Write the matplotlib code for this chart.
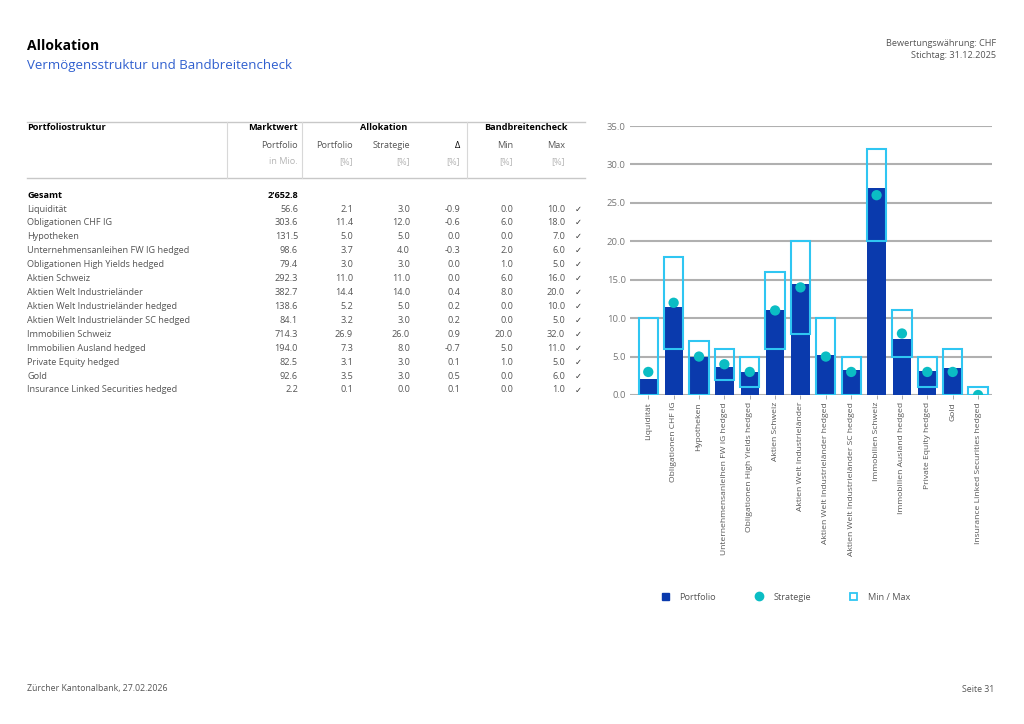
import matplotlib.pyplot as plt
from matplotlib.lines import Line2D
from matplotlib.patches import Patch

plt.rcParams['font.family'] = ['Open Sans', 'DejaVu Sans']

categories = [
    "Liquidität", "Obligationen CHF IG", "Hypotheken",
    "Unternehmensanleihen FW IG hedged", "Obligationen High Yields hedged",
    "Aktien Schweiz", "Aktien Welt Industrieländer",
    "Aktien Welt Industrieländer hedged", "Aktien Welt Industrieländer SC hedged",
    "Immobilien Schweiz", "Immobilien Ausland hedged", "Private Equity hedged",
    "Gold", "Insurance Linked Securities hedged",
]
marktwert = [56.6, 303.6, 131.5, 98.6, 79.4, 292.3, 382.7, 138.6, 84.1, 714.3, 194.0, 82.5, 92.6, 2.2]
portfolio = [2.1, 11.4, 5.0, 3.7, 3.0, 11.0, 14.4, 5.2, 3.2, 26.9, 7.3, 3.1, 3.5, 0.1]
strategie = [3.0, 12.0, 5.0, 4.0, 3.0, 11.0, 14.0, 5.0, 3.0, 26.0, 8.0, 3.0, 3.0, 0.0]
delta = [-0.9, -0.6, 0.0, -0.3, 0.0, 0.0, 0.4, 0.2, 0.2, 0.9, -0.7, 0.1, 0.5, 0.1]
band_min = [0.0, 6.0, 0.0, 2.0, 1.0, 6.0, 8.0, 0.0, 0.0, 20.0, 5.0, 1.0, 0.0, 0.0]
band_max = [10.0, 18.0, 7.0, 6.0, 5.0, 16.0, 20.0, 10.0, 5.0, 32.0, 11.0, 5.0, 6.0, 1.0]
gesamt = "2'652.8"
y_ticks = [0, 5, 10, 15, 20, 25, 30, 35]

DARK = '#0a3aad'
CYAN = '#2fc6f2'
TEAL = '#0bbdc4'
GREY = '#555555'
LIGHT = '#b5b5b5'
FS = 6.6

W, H = 1024, 724
fig = plt.figure(figsize=(W / 100, H / 100), dpi=100)


def px(x, y):
    return x / W, 1 - y / H


def txt(x, y, s, **kw):
    kw.setdefault('fontsize', FS)
    kw.setdefault('color', GREY)
    kw.setdefault('va', 'center')
    fig.text(*px(x, y), s, **kw)


# header
txt(27, 46, "Allokation", fontsize=10, fontweight='bold', color='black')
txt(27, 66, "Vermögensstruktur und Bandbreitencheck", fontsize=9.5, color='#2f5fcf')
txt(996, 44, "Bewertungswährung: CHF", ha='right', fontsize=6.6)
txt(996, 56, "Stichtag: 31.12.2025", ha='right', fontsize=6.6)
txt(27, 689, "Zürcher Kantonalbank, 27.02.2026", fontsize=6.3)
txt(994, 689, "Seite 31", ha='right', fontsize=6.3)

# table lines
for yy in (122, 178):
    fig.add_artist(Line2D([27 / W, 585 / W], [1 - yy / H] * 2, color='#c8c8c8', lw=1))
for xx in (227, 302, 467):
    fig.add_artist(Line2D([xx / W] * 2, [1 - 122 / H, 1 - 178 / H], color='#d8d8d8', lw=0.8))

# table header
txt(27, 128, "Portfoliostruktur", fontweight='bold', color='black')
txt(298, 128, "Marktwert", ha='right', fontweight='bold', color='black')
txt(384, 128, "Allokation", ha='center', fontweight='bold', color='black')
txt(526, 128, "Bandbreitencheck", ha='center', fontweight='bold', color='black')
cols = [298, 353, 410, 460, 513, 565]
sub1 = ["Portfolio", "Portfolio", "Strategie", "Δ", "Min", "Max"]
sub2 = ["in Mio.", "[%]", "[%]", "[%]", "[%]", "[%]"]
for c, a, b in zip(cols, sub1, sub2):
    txt(c, 146, a, ha='right', color='#555555' if a != "Δ" else 'black')
    txt(c, 162, b, ha='right', color=LIGHT)

txt(27, 195, "Gesamt", fontweight='bold', color='black')
txt(298, 195, gesamt, ha='right', fontweight='bold', color='black')

y0, dy = 209, 13.92
for i, name in enumerate(categories):
    yy = y0 + i * dy
    txt(27, yy, name)
    vals = [marktwert[i], portfolio[i], strategie[i], delta[i], band_min[i], band_max[i]]
    for c, v in zip(cols, vals):
        txt(c, yy, f"{v:.1f}", ha='right')
    ok = band_min[i] <= portfolio[i] <= band_max[i]
    txt(578, yy, "✓" if ok else "✗", ha='center', fontsize=6, color='#333333',
        family=['DejaVu Sans'])

# chart
ax = fig.add_axes([630 / W, 1 - 395 / H, (992 - 630) / W, (395 - 126) / H])
x = list(range(len(categories)))
ax.bar(x, portfolio, width=0.72, color=DARK, zorder=2, label="Portfolio")
ax.bar(x, [b - a for a, b in zip(band_min, band_max)], bottom=band_min, width=0.76,
       facecolor='none', edgecolor=CYAN, lw=1.5, zorder=3)
ax.scatter(x, strategie, s=55, color=TEAL, zorder=4, edgecolors='none')

ax.set_ylim(0, 35)
ax.set_xlim(-0.72, 13.55)
ax.set_yticks(y_ticks)
ax.set_yticklabels([f"{v:.1f}" for v in y_ticks])
ax.yaxis.grid(True, color='#b0b0b0', lw=1.5, zorder=0)
ax.set_axisbelow(True)
for s in ax.spines.values():
    s.set_visible(False)
ax.tick_params(axis='y', length=0, pad=3, labelsize=6.8, labelcolor='#777777')
ax.set_xticks(x)
ax.set_xticklabels(categories, rotation=90, fontsize=6.1, color='#555555')
ax.tick_params(axis='x', length=3, width=0.6, color='#999999', pad=2)

handles = [
    Patch(facecolor=DARK, edgecolor=DARK, label="Portfolio"),
    Line2D([], [], marker='o', ls='none', markersize=6, color=TEAL, label="Strategie"),
    Patch(facecolor='white', edgecolor=CYAN, lw=1.3, label="Min / Max"),
]
fig.legend(handles=handles, ncol=3, loc='center', bbox_to_anchor=(px(786, 597)),
           frameon=False, fontsize=6.6, labelcolor='#555555', handlelength=0.7,
           handleheight=0.7, columnspacing=4.3, handletextpad=1.2)

fig.savefig("out.png", dpi=100)
